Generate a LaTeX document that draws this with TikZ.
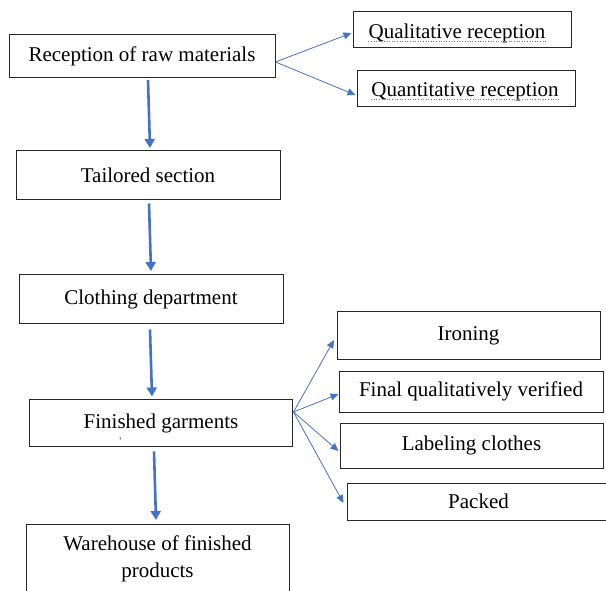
\documentclass[tikz,border=0pt]{standalone}
\usepackage{fontspec}
\setmainfont{Liberation Serif}
\usetikzlibrary{arrows.meta,calc}
\definecolor{flowblue}{HTML}{4472C4}
\begin{document}
\begin{tikzpicture}[x=1pt,y=-1pt,
  box/.style={draw=black!85, line width=1pt, rectangle, inner sep=0pt,
    font=\fontsize{21}{27}\selectfont, align=center},
  lbl/.style={font=\fontsize{21}{27}\selectfont, inner sep=0pt},
  mainflow/.style={draw=flowblue, line width=2.6pt,
    -{Triangle[length=9pt,width=10pt]}},
  branch/.style={draw=flowblue, line width=0.8pt,
    -{Triangle[length=8pt,width=7pt]}},
  spell/.style={draw=red!75, line width=0.6pt, dotted}]
\useasboundingbox (0,0) rectangle (606,591);
\clip (0,0) rectangle (606,591);

% main chain
\node[box, minimum width=266pt, minimum height=43pt] (rec) at (142,56.5) {Reception of raw materials};
\node[box, minimum width=264pt, minimum height=49pt] (tail) at (148,175.5) {Tailored section};
\node[box, minimum width=264pt, minimum height=48pt] (cloth) at (151,299) {Clothing department};
\node[box, minimum width=263pt, minimum height=47pt] (fin) at (161,423) {Finished garments};
\node[box, minimum width=263pt, minimum height=69pt] (ware) at (157.5,558.5) {Warehouse of finished\\products};

% reception branches
\node[box, minimum width=218pt, minimum height=36pt] (qual) at (462,30) {};
\node[lbl] (qualt) at (457,33) {Qualitative reception};
\node[box, minimum width=218pt, minimum height=36pt] (quant) at (466,89) {};
\node[lbl] (quantt) at (465,92) {Quantitative reception};

% finishing branches
\node[box, minimum width=263pt, minimum height=47pt] (iron) at (468.5,335.5) {Ironing};
\node[box, minimum width=264pt, minimum height=41pt] (final) at (471,391.5) {Final qualitatively verified};
\node[box, minimum width=263pt, minimum height=45pt] (label) at (471.5,445.5) {Labeling clothes};
\node[box, minimum width=263pt, minimum height=37pt] (packed) at (478.5,501.5) {Packed};

% spelling marks under the reception labels
\draw[spell] ($(qualt.base west)+(0,3)$) -- ($(qualt.base east)+(0,3)$);
\draw[spell] ($(quantt.base west)+(0,3)$) -- ($(quantt.base east)+(0,3)$);

% small mark under the finished garments label
\draw[line width=0.7pt, black!80] (120,437) -- (120.4,439.5);

% vertical flow
\draw[mainflow] ($(rec.south)+(6,1.5)$) -- ($(tail.north)+(2,-2.5)$);
\draw[mainflow] ($(tail.south)+(1,3)$) -- ($(cloth.north)+(0,-3.5)$);
\draw[mainflow] ($(cloth.south)+(-1,6)$) -- ($(fin.north)+(-9,-2.5)$);
\draw[mainflow] ($(fin.south)+(-7,4.5)$) -- ($(ware.north)+(-1.5,-3.5)$);

% fan-out connectors
\coordinate (ro) at ($(rec.east)+(0,5.5)$);
\draw[branch] (ro) -- ($(qual.west)+(-1,3)$);
\draw[branch] (ro) -- ($(quant.west)+(-1,6)$);

\coordinate (fo) at ($(fin.east)+(0.5,-11)$);
\draw[branch] (fo) -- ($(iron.west)+(-2.5,4.5)$);
\draw[branch] (fo) -- ($(final.west)+(0,2.5)$);
\draw[branch] (fo) -- ($(label.west)+(-1,5.5)$);
\draw[branch] (fo) -- ($(packed.west)+(-3,1.5)$);
\end{tikzpicture}
\end{document}
